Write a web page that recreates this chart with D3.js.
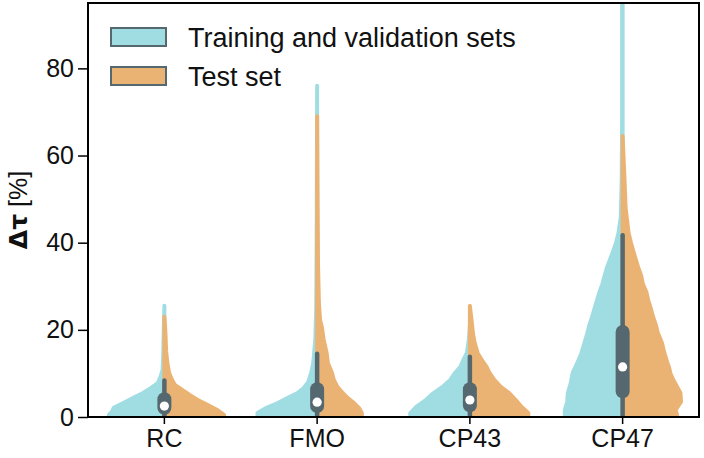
<!DOCTYPE html>
<html>
<head>
<meta charset="utf-8">
<script src="https://cdn.jsdelivr.net/npm/d3@7"></script>
<style>
  body { margin: 0; background: #fff; }
  svg { font-family: "Liberation Sans", Arial, sans-serif; }
</style>
</head>
<body>
<div id="chart"></div>
<script>
// categories and legend
const categories = ["RC", "FMO", "CP43", "CP47"];
const seriesNames = ["Training and validation sets", "Test set"];
const yTicks = [0, 20, 40, 60, 80];

// half-violin profiles: [delta tau (%), relative half width]
const trainProfiles = [
  [[0, 0.93], [0.5, 0.93], [1.2, 0.88], [2.1, 0.85], [3.2, 0.69], [4.4, 0.52], [5.5, 0.36], [6.6, 0.23],
   [7.8, 0.11], [9.2, 0.065], [10.8, 0.03], [14, 0.02], [20, 0.01], [25.5, 0]],
  [[0, 1.0], [0.9, 1.0], [2.1, 0.85], [3.2, 0.66], [4.4, 0.49], [5.5, 0.33], [6.6, 0.23], [8, 0.15],
   [10.1, 0.10], [12.4, 0.065], [14.7, 0.05], [18, 0.03], [25, 0.015], [40, 0.008], [76, 0]],
  [[0, 1.0], [0.9, 1.0], [2.3, 0.90], [3.9, 0.74], [5.5, 0.61], [6.9, 0.46], [8.5, 0.33], [10.1, 0.25],
   [11.5, 0.16], [13.1, 0.11], [14.7, 0.05], [18, 0.015], [21, 0]],
  [[0, 0.97], [1.6, 0.97], [3.5, 0.93], [5.5, 0.92], [7.8, 0.87], [10.1, 0.84], [12.4, 0.76], [14.7, 0.69],
   [17, 0.64], [19.3, 0.59], [21, 0.56], [23, 0.51], [25, 0.47], [26.8, 0.43], [28.6, 0.39], [30.5, 0.34],
   [32.5, 0.30], [34.4, 0.26], [36.2, 0.21], [38, 0.16], [40, 0.11], [42.2, 0.07], [46, 0.03], [55, 0.015],
   [70, 0.008], [100, 0.008]]
];
const testProfiles = [
  [[0, 1.0], [0.5, 1.0], [1.6, 0.89], [2.8, 0.72], [3.9, 0.56], [5.0, 0.43], [6.2, 0.30], [7.3, 0.18],
   [8.5, 0.13], [10.1, 0.08], [12.4, 0.05], [15, 0.03], [20, 0.015], [23, 0]],
  [[0, 0.75], [0.9, 0.75], [2.1, 0.70], [3.2, 0.62], [4.4, 0.51], [5.5, 0.43], [6.9, 0.34], [8.5, 0.28],
   [10.1, 0.25], [12.4, 0.18], [14.7, 0.16], [17.7, 0.11], [20.6, 0.08], [22.2, 0.05], [26, 0.03],
   [35, 0.015], [50, 0.008], [69, 0]],
  [[0, 0.98], [0.9, 0.98], [2.3, 0.87], [3.9, 0.77], [5.5, 0.66], [6.9, 0.52], [8.5, 0.41], [10.1, 0.33],
   [11.5, 0.28], [13.1, 0.20], [14.7, 0.13], [17, 0.08], [19.3, 0.05], [22, 0.03], [25.5, 0]],
  [[0, 0.92], [1.6, 0.89], [3.5, 0.98], [5.5, 0.97], [7.5, 0.89], [8.8, 0.84], [10.1, 0.80], [11.3, 0.78],
   [12.5, 0.75], [14.7, 0.70], [17, 0.66], [19.3, 0.59], [21, 0.56], [23, 0.51], [25, 0.47], [26.8, 0.43],
   [28.6, 0.40], [30.5, 0.34], [32.5, 0.31], [34.4, 0.26], [36.2, 0.22], [38, 0.18], [40, 0.14],
   [42.2, 0.10], [48, 0.05], [55, 0.03], [64.5, 0]]
];

// inner box: whiskers, quartiles, median
const whiskerLow = [0, 0, 0, 0];
const q1Values = [0.5, 0.9, 1.1, 4.3];
const medians = [2.5, 3.4, 3.9, 11.5];
const q3Values = [5.7, 8.0, 8.0, 21.1];
const whiskerHigh = [8.4, 14.5, 13.8, 41.7];

const colors = ["#a0dde3", "#eab374"];
const darkColor = "#56686f";

const width = 704, height = 458;
const margin = {top: 3, right: 5, bottom: 41, left: 88};

let svg = d3.select("#chart").append("svg")
    .attr("width", width)
    .attr("height", height);

let x = d3.scaleBand()
    .domain(categories)
    .range([margin.left, width - margin.right]);

let y = d3.scaleLinear()
    .domain([0, 95])
    .range([height - margin.bottom, margin.top]);

// half width scale (seaborn-like width 0.8), minus the edge line
let wScale = d3.scaleLinear().domain([0, 1]).range([0, x.bandwidth() * 0.4 - 1.5]);

svg.append("clipPath").attr("id", "plotClip")
  .append("rect")
    .attr("x", margin.left)
    .attr("y", margin.top)
    .attr("width", width - margin.left - margin.right)
    .attr("height", height - margin.top - margin.bottom);

let plot = svg.append("g").attr("clip-path", "url(#plotClip)");

function halfViolin(profile, cx, side) {
    let pts = profile.map(d => [cx + side * wScale(d[1]), y(d[0])]);
    let top = profile[profile.length - 1][0];
    pts.push([cx, y(top)]);
    pts.push([cx, y(profile[0][0])]);
    return d3.line()(pts) + "Z";
}

[trainProfiles, testProfiles].forEach(function(profiles, s) {
    plot.append("g").selectAll("path")
        .data(profiles)
        .enter()
        .append("path")
        .attr("d", (d, i) => halfViolin(d, x(categories[i]) + x.bandwidth() / 2, s === 0 ? -1 : 1))
        .style("fill", colors[s])
        .style("stroke", colors[s])
        .style("stroke-width", 4)
        .style("stroke-linejoin", "round");
});

let inner = plot.append("g");
categories.forEach(function(c, i) {
    let cx = x(c) + x.bandwidth() / 2;
    inner.append("line")
        .attr("x1", cx).attr("x2", cx)
        .attr("y1", y(whiskerLow[i])).attr("y2", y(whiskerHigh[i]))
        .style("stroke", darkColor)
        .style("stroke-width", 4.5)
        .style("stroke-linecap", "round");
    inner.append("rect")
        .attr("x", cx - 7).attr("width", 14)
        .attr("y", y(q3Values[i]))
        .attr("height", y(q1Values[i]) - y(q3Values[i]))
        .attr("rx", 7)
        .style("fill", darkColor);
    inner.append("circle")
        .attr("cx", cx).attr("cy", y(medians[i]))
        .attr("r", 4.6)
        .style("fill", "#fff");
});

// axes
let yAxis = svg.append("g")
    .attr("transform", "translate(" + margin.left + ",0)")
    .call(d3.axisLeft(y).tickValues(yTicks).tickSize(10).tickPadding(4).tickSizeOuter(0));
let xAxis = svg.append("g")
    .attr("transform", "translate(0," + (height - margin.bottom) + ")")
    .call(d3.axisBottom(x).tickSize(7).tickPadding(5).tickSizeOuter(0));
[xAxis, yAxis].forEach(function(a) {
    a.select(".domain").remove();
    a.selectAll("line").style("stroke", "#000").style("stroke-width", 1.5);
    a.selectAll("text").style("font-size", "25px").style("fill", "#111")
        .style("font-family", "'Liberation Sans', Arial, sans-serif");
});

svg.append("rect")
    .attr("x", margin.left)
    .attr("y", margin.top)
    .attr("width", width - margin.left - margin.right)
    .attr("height", height - margin.top - margin.bottom)
    .style("fill", "none")
    .style("stroke", "#000")
    .style("stroke-width", 2);

let ylab = svg.append("text")
    .attr("transform", "translate(27," + ((margin.top + height - margin.bottom) / 2) + ") rotate(-90)")
    .attr("text-anchor", "middle")
    .style("font-size", "25px")
    .style("fill", "#111");
ylab.append("tspan")
    .style("font-family", "'DejaVu Sans', sans-serif")
    .style("font-weight", "bold")
    .text("Δτ");
ylab.append("tspan").text(" [%]");

// legend
let legend = svg.append("g").attr("transform", "translate(111,28)");
seriesNames.forEach(function(name, i) {
    legend.append("rect")
        .attr("x", 0).attr("y", i * 39)
        .attr("width", 55).attr("height", 18)
        .style("fill", colors[i])
        .style("stroke", darkColor)
        .style("stroke-width", 2);
    legend.append("text")
        .attr("x", 77).attr("y", i * 39 + 19)
        .style("font-size", "27px")
        .style("fill", "#111")
        .text(name);
});
</script>
</body>
</html>
